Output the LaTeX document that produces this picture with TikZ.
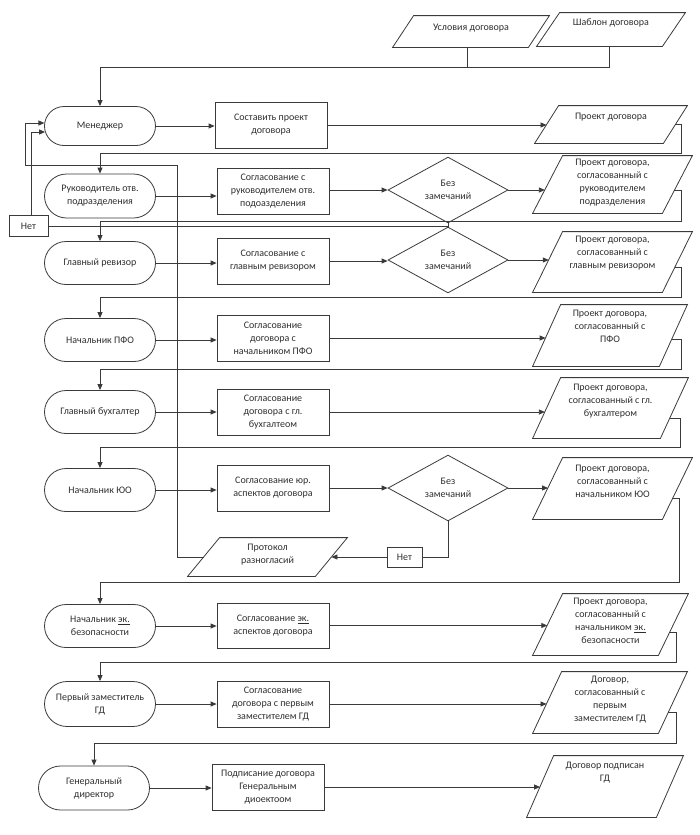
\documentclass[tikz,border=0pt]{standalone}
\usepackage{fontspec}
\setmainfont{Carlito}
\usetikzlibrary{arrows.meta,calc,shapes.geometric,shapes.misc}
\definecolor{ln}{HTML}{3A3A3A}
\definecolor{tx}{HTML}{2E2E2E}
\tikzset{
  term/.style={draw=ln, rounded rectangle, minimum width=113pt, minimum height=43pt, align=center, inner sep=1pt, text=tx},
  proc/.style={draw=ln, rectangle, minimum width=112pt, minimum height=46pt, align=center, inner sep=1pt, text=tx},
  dec/.style={draw=ln, diamond, minimum width=120pt, minimum height=57pt, align=center, inner sep=0pt, text=tx},
  iobox/.style={rectangle, inner sep=0pt, draw=none},
  iotxt/.style={anchor=north, align=center, inner sep=1pt, text=tx},
  nbox/.style={draw=ln, rectangle, minimum width=38pt, minimum height=20pt, inner sep=1pt, text=tx},
  arr/.style={-{Triangle[length=6pt,width=5pt]}},
}
% parallelogram: name, x, y, width, height, slant
\newcommand\para[6]{%
  \node[iobox, minimum width=#4pt, minimum height=#5pt] (#1) at (#2,#3) {};
  \draw (#1.south west) -- ([xshift=#6pt]#1.north west) -- (#1.north east) -- ([xshift=-#6pt]#1.south east) -- cycle;}
% arrow from a point to the left edge of a parallelogram: source, name, slant, height
\newcommand\toio[4]{\draw[arr] let \p1=(#1), \p2=(#2.south west) in (\p1) -- ({\x2+#3*(\y1-\y2)/#4},\y1);}
\begin{document}
\begin{tikzpicture}[x=1pt,y=-1pt, font=\fontsize{10}{13}\selectfont, line width=0.8pt, color=ln]
\useasboundingbox (0,0) rectangle (700,835);
% top inputs
\para{p0a}{471}{31.5}{156}{31}{21}
\node[iotxt] (p0at) at ([shift={(0,7)}]p0a.north) {Условия договора};
\para{p0b}{611}{29.5}{148}{33}{23}
\node[iotxt] (p0bt) at ([shift={(0,5)}]p0b.north) {Шаблон договора};
% row 1
\node[term, minimum height=39pt] (m1) at (100,126) {Менеджер};
\node[proc] (b1) at (271,125) {Составить проект\\договора};
\para{p1}{611}{124.5}{152}{37}{24}
\node[iotxt] (p1t) at ([shift={(0,6)}]p1.north) {Проект договора};
% row 2
\node[term, minimum height=44pt] (m2) at (100,196) {Руководитель отв.\\подразделения};
\node[proc] (b2) at (273,191) {Согласование с\\руководителем отв.\\подоазделения};
\node[dec, minimum height=56pt] (d1) at (448,190) {Без\\замечаний};
\para{p2}{612.5}{184.5}{159}{57}{30}
\node[iotxt] (p2t) at ([shift={(0,2)}]p2.north) {Проект договора,\\согласованный с\\руководителем\\подразделения};
% row 3
\node[term] (m3) at (100,263) {Главный ревизор};
\node[proc] (b3) at (273,261) {Согласование с\\главным ревизором};
\node[dec] (d2) at (448,260) {Без\\замечаний};
\para{p3}{612.5}{262}{159}{60}{30}
\node[iotxt] (p3t) at ([shift={(0,3)}]p3.north) {Проект договора,\\согласованный с\\главным ревизором};
% row 4
\node[term] (m4) at (100,340) {Начальник ПФО};
\node[proc] (b4) at (273,338) {Согласование\\договора с\\начальником ПФО};
\para{p4}{610}{335.5}{154}{61}{28}
\node[iotxt] (p4t) at ([shift={(0,4)}]p4.north) {Проект договора,\\согласованный с\\ПФО};
% row 5
\node[term] (m5) at (100,412) {Главный бухгалтер};
\node[proc] (b5) at (273,412) {Согласование\\договора с гл.\\бухгалтеом};
\para{p5}{610.5}{408}{155}{60}{28}
\node[iotxt] (p5t) at ([shift={(0,5)}]p5.north) {Проект договора,\\согласованный с гл.\\бухгалтером};
% row 6
\node[term] (m6) at (100,490) {Начальник ЮО};
\node[proc] (b6) at (273,488) {Согласование юр.\\аспектов договора};
\node[dec, minimum height=59pt] (d3) at (448,488) {Без\\замечаний};
\para{p6}{612.5}{488.5}{159}{61}{30}
\node[iotxt] (p6t) at ([shift={(0,6)}]p6.north) {Проект договора,\\согласованный с\\начальником ЮО};
% protocol and Нет
\para{pr}{267.5}{557}{159}{38}{32}
\node[iotxt] (prt) at ([shift={(0,5)}]pr.north) {Протокол\\разногласий};
\node[nbox, minimum width=35pt] (n2) at (404.5,557) {Нет};
\node[nbox, minimum width=39pt, minimum height=21pt] (n1) at (28.5,226) {Нет};
% row 7
\node[term] (m7) at (100,626) {Начальник \underline{эк.}\\безопасности};
\node[proc, minimum height=45pt] (b7) at (273,625.5) {Согласование \underline{эк.}\\аспектов договора};
\para{p7}{610.5}{624.5}{155}{61}{30}
\node[iotxt] (p7t) at ([shift={(0,3)}]p7.north) {Проект договора,\\согласованный с\\начальником \underline{эк.}\\безопасности};
% row 8
\node[term, minimum height=45pt] (m8) at (100,704) {Первый заместитель\\ГД};
\node[proc] (b8) at (273,704) {Согласование\\договора с первым\\заместителем ГД};
\para{p8}{610}{702.5}{154}{61}{29}
\node[iotxt] (p8t) at ([shift={(0,3)}]p8.north) {Договор,\\согласованный с\\первым\\заместителем ГД};
% row 9
\node[term, minimum height=44pt] (m9) at (94,788) {Генеральный\\директор};
\node[proc] (b9) at (268,787) {Подписание договора\\Генеральным\\диоектоом};
\para{p9}{605}{786.5}{156}{61}{27}
\node[iotxt] (p9t) at ([shift={(0,5)}]p9.north) {Договор подписан\\ГД};

% bend coordinates
\coordinate (k0) at (100,67);
\coordinate (k1) at (681,153);
\coordinate (k2) at (681,221);
\coordinate (k3) at (681,297);
\coordinate (k4) at (681,369);
\coordinate (k5) at (680,447);
\coordinate (k6) at (679,582);
\coordinate (k7) at (676,662);
\coordinate (k8) at (676,743);
\coordinate (q1) at (177,165);
\coordinate (q2) at (25,165);

% inputs to manager
\draw ([shift={(-4,0)}]p0a.south) -- ([shift={(-4,0)}]p0a.south |- k0);
\draw[arr] ([shift={(-2,0)}]p0b.south) |- (k0) -- (m1.north);

% row arrows
\draw[arr] (m1.east) -- (m1.east -| b1.west);
\toio{b1.east}{p1}{24}{37}
\draw[arr] (m2.east) -- (m2.east -| b2.west);
\draw[arr] ([shift={(0,-1)}]b2.east) -- (d1.west);
\toio{d1.east}{p2}{30}{57}
\draw[arr] (m3.east) -- (m3.east -| b3.west);
\draw[arr] (b3.east) -- (b3.east -| d2.west);
\toio{d2.east}{p3}{30}{60}
\draw[arr] (m4.east) -- (m4.east -| b4.west);
\toio{b4.east}{p4}{28}{61}
\draw[arr] (m5.east) -- (m5.east -| b5.west);
\toio{b5.east}{p5}{28}{60}
\draw[arr] (m6.east) -- (m6.east -| b6.west);
\draw[arr] (b6.east) -- (d3.west);
\toio{d3.east}{p6}{30}{61}
\draw[arr] (m7.east) -- (m7.east -| b7.west);
\toio{b7.east}{p7}{30}{61}
\draw[arr] (m8.east) -- (m8.east -| b8.west);
\toio{b8.east}{p8}{29}{61}
\draw[arr] (m9.east) -- (m9.east -| b9.west);
\toio{b9.east}{p9}{27}{61}

% returns to next role
\draw[arr] ([shift={(-12,0)}]p1.east) -| (k1) -- (k1 -| m2.north) -- (m2.north);
\draw[arr] ([shift={(-18.2,6)}]p2.east) -| (k2) -- (k2 -| m3.north) -- (m3.north);
\draw[arr] ([shift={(-17.5,5)}]p3.east) -| (k3) -- (k3 -| m4.north) -- (m4.north);
\draw[arr] ([shift={(-15.8,4)}]p4.east) -| (k4) -- (k4 -| m5.north) -- (m5.north);
\draw[arr] ([shift={(-18.7,10)}]p5.east) -| (k5) -- (k5 -| m6.north) -- (m6.north);
\draw[arr] ([shift={(-19.9,10)}]p6.east) -| (k6) -- (k6 -| m7.north) -- (m7.north);
\draw[arr] ([shift={(-18.9,8)}]p7.east) -| (k7) -- (k7 -| m8.north) -- (m8.north);
\draw[arr] ([shift={(-19.3,10)}]p8.east) -| (k8) -- (k8 -| m9.north) -- (m9.north);

% Нет loops
\draw (d1.south) |- (n1.east);
\draw[arr] ([shift={(2.5,0)}]n1.north) |- ([shift={(1,6)}]m1.west);
\draw (d3.south) |- (n2.east);
\draw[arr] (n2.west) -- ([shift={(-16,0)}]pr.east);
\draw[arr] ([shift={(16,0)}]pr.west) -| (q1) -- (q2) |- ([shift={(0.3,-3)}]m1.west);
\end{tikzpicture}
\end{document}
